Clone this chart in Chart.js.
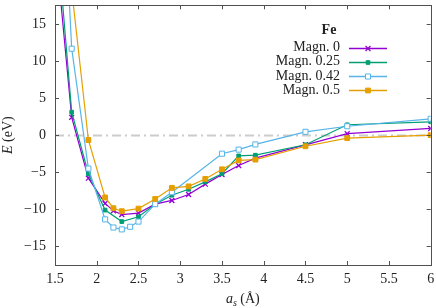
<!DOCTYPE html>
<html>
<head>
<meta charset="utf-8">
<script src="https://cdn.jsdelivr.net/npm/chart.js@4.4.1/dist/chart.umd.min.js"></script>
<style>
  html, body { margin: 0; padding: 0; background: #fff; }
</style>
</head>
<body>
<canvas id="feChart" width="436" height="308"></canvas>
<script>
// lattice constant a_s (Å) and energy E (eV) per magnetisation
const magn0X = [1.5, 1.7, 1.9, 2.1, 2.2, 2.3, 2.5, 2.7, 2.9, 3.1, 3.3, 3.5, 3.7, 3.9, 4.5, 5, 6];
const magn0E = [26.3, 2.4, -5.8, -9.2, -10.2, -10.7, -10.5, -9.3, -8.8, -8.0, -6.6, -5.3, -4.1, -3.1, -1.3, 0.2, 0.9];

const magn025X = [1.5, 1.7, 1.9, 2.1, 2.3, 2.5, 2.7, 2.9, 3.1, 3.3, 3.5, 3.7, 3.9, 4.5, 5, 6];
const magn025E = [30, 3.1, -5.2, -10.1, -11.65, -11.0, -9.3, -8.1, -7.3, -6.3, -5.2, -2.8, -2.7, -1.3, 1.4, 1.8];

const magn042X = [1.6, 1.7, 1.9, 2.1, 2.2, 2.3, 2.4, 2.5, 2.7, 2.9, 3.5, 3.7, 3.9, 4.5, 5, 6];
const magn042E = [34, 11.65, -4.5, -11.35, -12.45, -12.7, -12.35, -11.65, -9.3, -7.7, -2.5, -1.95, -1.25, 0.45, 1.2, 2.2];

const magn05X = [1.7, 1.9, 2.1, 2.2, 2.3, 2.5, 2.7, 2.9, 3.1, 3.3, 3.5, 3.7, 3.9, 4.5, 5, 6];
const magn05E = [19.6, -0.65, -8.4, -9.85, -10.25, -9.9, -8.6, -7.1, -6.9, -5.9, -4.6, -3.4, -3.3, -1.5, -0.4, 0.0];

const seriesLabels = ['Magn. 0', 'Magn. 0.25', 'Magn. 0.42', 'Magn. 0.5'];
const seriesColors = ['#9400d3', '#009e73', '#56b4e9', '#e69f00'];
const xTickValues = [1.5, 2, 2.5, 3, 3.5, 4, 4.5, 5, 5.5, 6];
const yTickValues = [-15, -10, -5, 0, 5, 10, 15];

const serif = "'Liberation Serif', 'DejaVu Serif', serif";

function toPoints(xs, ys) {
    return xs.map((x, i) => ({ x: x, y: ys[i] }));
}

const pointLook = [
    { pointStyle: 'crossRot', pointRadius: 3.5, pointBorderWidth: 1.3, pointBackgroundColor: seriesColors[0] },
    { pointStyle: 'rect', pointRadius: 2.6, pointBorderWidth: 1, pointBackgroundColor: seriesColors[1] },
    { pointStyle: 'rect', pointRadius: 3.6, pointBorderWidth: 1, pointBackgroundColor: '#ffffff' },
    { pointStyle: 'rect', pointRadius: 3.4, pointBorderWidth: 1, pointBackgroundColor: seriesColors[3] }
];

const allX = [magn0X, magn025X, magn042X, magn05X];
const allE = [magn0E, magn025E, magn042E, magn05E];

const datasets = seriesLabels.map((label, i) => Object.assign({
    label: label,
    data: toPoints(allX[i], allE[i]),
    borderColor: seriesColors[i],
    pointBorderColor: seriesColors[i],
    borderWidth: 1.2,
    tension: 0,
    order: 4 - i
}, pointLook[i]));

function drawMarker(ctx, i, x, y) {
    const look = pointLook[i];
    ctx.save();
    ctx.strokeStyle = seriesColors[i];
    ctx.fillStyle = look.pointBackgroundColor;
    ctx.lineWidth = look.pointBorderWidth;
    Chart.helpers.drawPoint(ctx, {
        pointStyle: look.pointStyle,
        radius: look.pointRadius,
        borderWidth: look.pointBorderWidth
    }, x, y);
    ctx.restore();
}

function noPadding(s) {
    s.paddingLeft = 0;
    s.paddingRight = 0;
    s.paddingTop = 0;
    s.paddingBottom = 0;
}

const frameAndLabels = {
    id: 'frameAndLabels',
    beforeDatasetsDraw(chart) {
        const { ctx, chartArea: a, scales: { y } } = chart;
        const y0 = Math.round(y.getPixelForValue(0)) + 0.5;
        ctx.save();
        ctx.strokeStyle = '#cccccc';
        ctx.lineWidth = 2;
        ctx.setLineDash([9, 4, 2, 4]);
        ctx.beginPath();
        ctx.moveTo(a.left, y0);
        ctx.lineTo(a.right, y0);
        ctx.stroke();
        ctx.restore();
    },
    afterDraw(chart) {
        const { ctx, chartArea: a, scales: { x, y } } = chart;
        ctx.save();
        // frame
        ctx.strokeStyle = '#505050';
        ctx.lineWidth = 1;
        ctx.strokeRect(Math.round(a.left) + 0.5, Math.round(a.top) + 0.5,
            Math.round(a.right - a.left), Math.round(a.bottom - a.top));
        // inward ticks on all sides
        const tl = 4;
        ctx.beginPath();
        x.ticks.forEach(t => {
            const px = Math.round(x.getPixelForValue(t.value)) + 0.5;
            ctx.moveTo(px, a.bottom); ctx.lineTo(px, a.bottom - tl);
            ctx.moveTo(px, a.top); ctx.lineTo(px, a.top + tl);
        });
        y.ticks.forEach(t => {
            const py = Math.round(y.getPixelForValue(t.value)) + 0.5;
            ctx.moveTo(a.left, py); ctx.lineTo(a.left + tl, py);
            ctx.moveTo(a.right, py); ctx.lineTo(a.right - tl, py);
        });
        ctx.stroke();

        // legend
        ctx.fillStyle = '#222';
        ctx.textBaseline = 'middle';
        ctx.textAlign = 'center';
        ctx.font = 'bold 14px ' + serif;
        ctx.fillText('Fe', 329, 30);
        ctx.font = '14px ' + serif;
        const rowY = [47.5, 61.7, 75.9, 90.1];
        seriesLabels.forEach((label, i) => {
            ctx.textAlign = 'right';
            ctx.fillStyle = '#222';
            ctx.fillText(label, 340, rowY[i]);
            ctx.strokeStyle = seriesColors[i];
            ctx.lineWidth = 1.4;
            ctx.beginPath();
            ctx.moveTo(349, Math.round(rowY[i]) + 0.5);
            ctx.lineTo(387, Math.round(rowY[i]) + 0.5);
            ctx.stroke();
            drawMarker(ctx, i, 368, Math.round(rowY[i]) + 0.5);
        });

        // axis titles
        ctx.fillStyle = '#222';
        ctx.textAlign = 'left';
        ctx.textBaseline = 'alphabetic';
        const cx = (a.left + a.right) / 2;
        ctx.font = 'italic 14px ' + serif;
        const wa = ctx.measureText('a').width;
        ctx.font = 'italic 10px ' + serif;
        const ws = ctx.measureText('s').width;
        ctx.font = '14px ' + serif;
        const wr = ctx.measureText(' (Å)').width;
        let sx = cx - (wa + ws + wr) / 2;
        const base = 303;
        ctx.font = 'italic 14px ' + serif;
        ctx.fillText('a', sx, base);
        ctx.font = 'italic 10px ' + serif;
        ctx.fillText('s', sx + wa, base + 3);
        ctx.font = '14px ' + serif;
        ctx.fillText(' (Å)', sx + wa + ws, base);

        ctx.translate(12, (a.top + a.bottom) / 2);
        ctx.rotate(-Math.PI / 2);
        ctx.font = 'italic 14px ' + serif;
        const we = ctx.measureText('E').width;
        ctx.font = '14px ' + serif;
        const wev = ctx.measureText(' (eV)').width;
        const ex = -(we + wev) / 2;
        ctx.font = 'italic 14px ' + serif;
        ctx.fillText('E', ex, 0);
        ctx.font = '14px ' + serif;
        ctx.fillText(' (eV)', ex + we, 0);
        ctx.restore();
    }
};

new Chart(document.getElementById('feChart'), {
    type: 'line',
    data: { datasets: datasets },
    plugins: [frameAndLabels],
    options: {
        responsive: false,
        animation: false,
        layout: { padding: { top: 1, right: 3, left: 0, bottom: 0 } },
        plugins: { legend: { display: false }, tooltip: { enabled: false } },
        scales: {
            x: {
                type: 'linear',
                min: 1.5,
                max: 6,
                grid: { display: false, drawTicks: false },
                border: { display: false },
                afterBuildTicks: s => { s.ticks = xTickValues.map(v => ({ value: v })); },
                ticks: {
                    padding: 6,
                    color: '#222',
                    font: { family: serif, size: 14 },
                    callback: v => String(v)
                },
                afterFit: s => { s.height = 43; noPadding(s); }
            },
            y: {
                type: 'linear',
                min: -17.5,
                max: 17.5,
                grid: { display: false, drawTicks: false },
                border: { display: false },
                afterBuildTicks: s => { s.ticks = yTickValues.map(v => ({ value: v })); },
                ticks: {
                    padding: 9,
                    color: '#222',
                    font: { family: serif, size: 14 },
                    callback: v => String(v).replace('-', '\u2212')
                },
                afterFit: s => { s.width = 55; noPadding(s); }
            }
        }
    }
});
</script>
</body>
</html>
